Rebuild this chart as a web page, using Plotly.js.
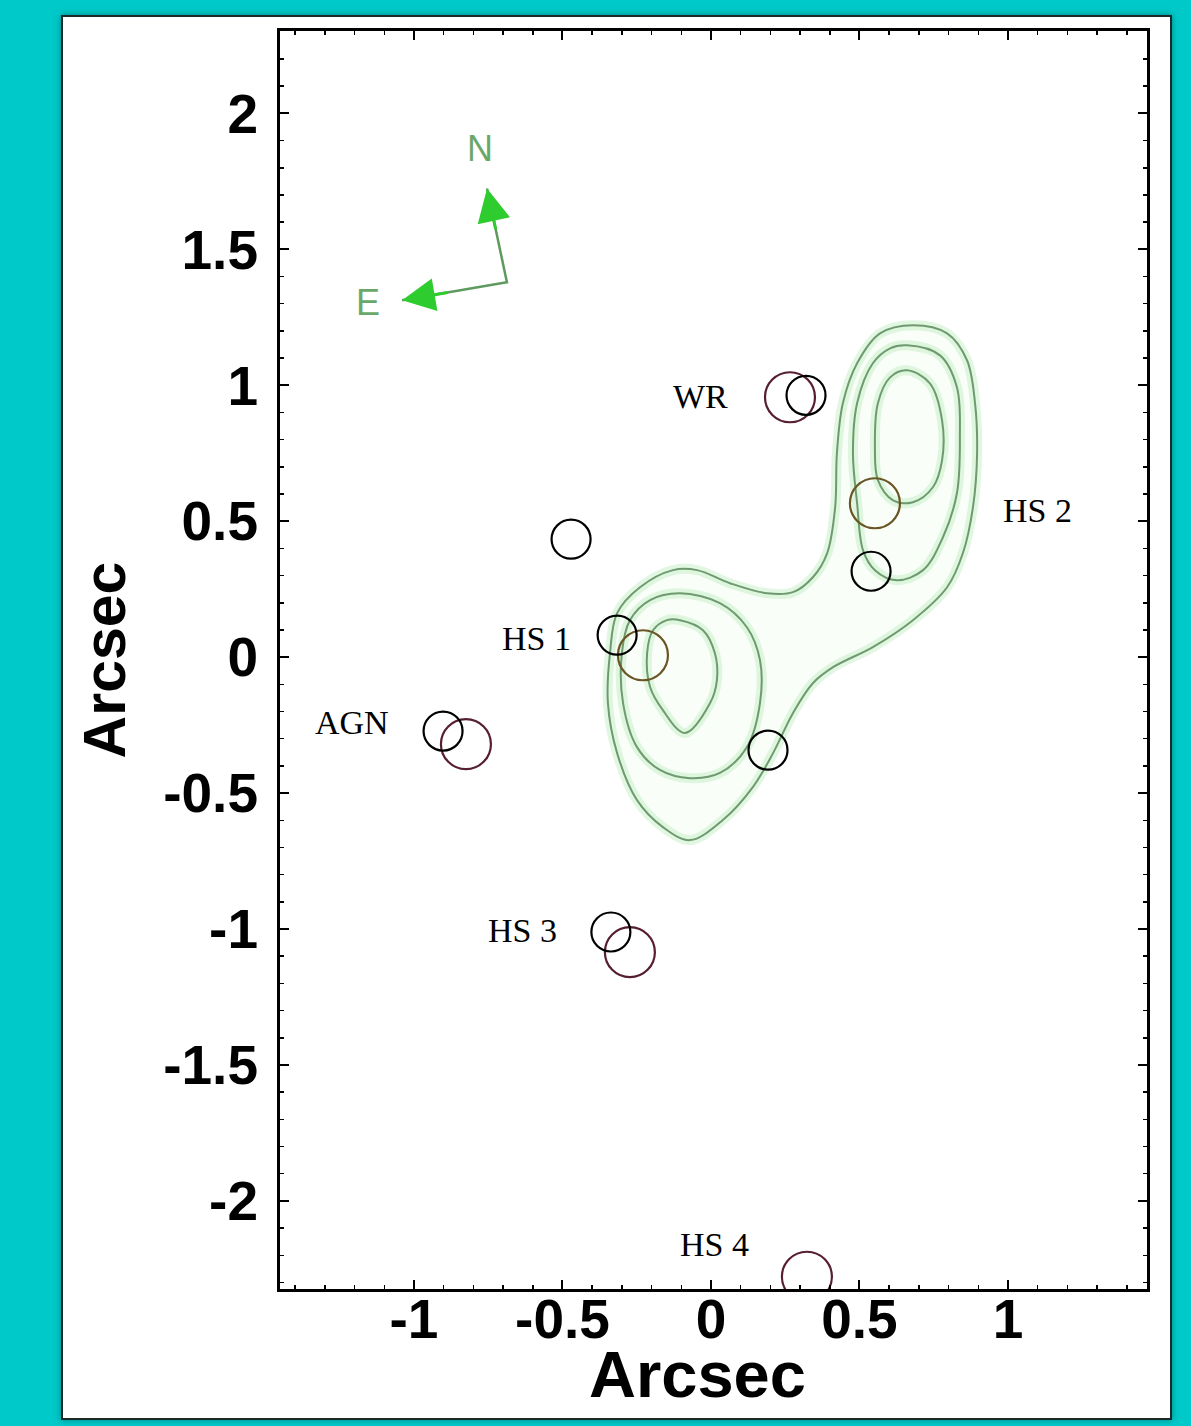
<!DOCTYPE html>
<html>
<head>
<meta charset="utf-8">
<script src="https://cdn.plot.ly/plotly-3.0.1.min.js"></script>
<style>
  html, body { margin:0; padding:0; width:1191px; height:1426px; background:#00c9c9; overflow:hidden; }
  #frame { position:absolute; left:61px; top:15px; width:1111px; height:1405px; box-sizing:border-box;
           border:2px solid #1a2a2a; background:#ffffff; box-shadow: 0 0 6px rgba(0,60,60,0.5); }
  #chart { position:absolute; left:0; top:0; width:1107px; height:1401px; }
</style>
</head>
<body>
<div id="frame"><div id="chart"></div></div>
<script>
// ---------- data (arcsec offsets) ----------
const blackX = [0.320, -0.471, 0.539, -0.316, 0.192, -0.902, -0.337];
const blackY = [0.963, 0.434, 0.316, 0.081, -0.342, -0.272, -1.011];

const redX = [0.266, 0.552, -0.229, -0.825, -0.273, 0.323];
const redY = [0.956, 0.566, 0.007, -0.320, -1.085, -2.279];

const labelText = ["WR", "HS 2", "HS 1", "AGN", "HS 3", "HS 4"];
const labelX = [-0.034, 1.101, -0.586, -1.209, -0.633, 0.013];
const labelY = [0.960, 0.540, 0.070, -0.239, -1.007, -2.162];

// contour outlines
const envX = [0.680,0.795,0.862,0.889,0.896,0.882,0.848,0.795,0.680,0.545,0.411,0.343,0.276,0.209,0.141,0.040,-0.071,-0.162,-0.249,-0.316,-0.347,-0.340,-0.316,-0.239,-0.128,-0.047,0.064,0.189,0.276,0.343,0.391,0.418,0.424,0.444,0.492,0.569,0.680];
const envY = [1.221,1.191,1.092,0.934,0.750,0.551,0.382,0.257,0.136,0.037,-0.037,-0.096,-0.206,-0.353,-0.478,-0.599,-0.673,-0.625,-0.526,-0.353,-0.169,0.015,0.162,0.257,0.320,0.320,0.272,0.235,0.239,0.294,0.382,0.551,0.750,0.934,1.081,1.191,1.221];

const lowMidX = [-0.104,0.030,0.121,0.165,0.165,0.121,0.030,-0.071,-0.172,-0.249,-0.296,-0.300,-0.273,-0.205,-0.104];
const lowMidY = [0.235,0.199,0.110,-0.011,-0.169,-0.331,-0.426,-0.445,-0.415,-0.331,-0.169,0.015,0.136,0.210,0.235];

const lowInX = [-0.104,-0.027,0.013,0.020,-0.003,-0.088,-0.162,-0.205,-0.215,-0.195,-0.148,-0.104];
const lowInY = [0.136,0.099,0.015,-0.085,-0.169,-0.279,-0.195,-0.110,0.015,0.099,0.136,0.136];

const upMidX = [0.660,0.771,0.828,0.838,0.828,0.781,0.714,0.626,0.552,0.512,0.492,0.478,0.492,0.545,0.603,0.660];
const upMidY = [1.147,1.110,0.993,0.809,0.603,0.441,0.320,0.283,0.320,0.393,0.566,0.750,0.934,1.081,1.136,1.147];

const upInX = [0.660,0.737,0.778,0.778,0.747,0.680,0.613,0.562,0.552,0.562,0.603,0.660];
const upInY = [1.055,1.007,0.871,0.724,0.625,0.570,0.577,0.651,0.772,0.934,1.029,1.055];

// compass: [north tip, corner, east tip] and label positions
const compassX = [-0.754, -0.687, -1.040];
const compassY = [1.724, 1.379, 1.3125];
const compassLabel = ["N", "E"];
const compassLabelX = [-0.778, -1.155];
const compassLabelY = [1.871, 1.305];

const xTickVals = [-1, -0.5, 0, 0.5, 1];
const xTickText = ["-1", "-0.5", "0", "0.5", "1"];
const yTickVals = [-2, -1.5, -1, -0.5, 0, 0.5, 1, 1.5, 2];
const yTickText = ["-2", "-1.5", "-1", "-0.5", "0", "0.5", "1", "1.5", "2"];
const xTitle = "Arcsec";
const yTitle = "Arcsec";

// ---------- styles ----------
const redColors = ['#561e2e', '#6a5524', '#6a5524', '#561e2e', '#561e2e', '#561e2e'];
const contourLine = '#6f9a70';
const glow = 'rgba(140,225,140,0.25)';

const contours = [[envX, envY], [lowMidX, lowMidY], [lowInX, lowInY], [upMidX, upMidY], [upInX, upInY]];
const traces = [];

traces.push({x: envX, y: envY, type: 'scatter', mode: 'none', fill: 'toself',
  fillcolor: 'rgba(215,245,215,0.15)', hoverinfo: 'skip', line: {shape: 'spline', smoothing: 1}});

contours.forEach(c => {
  traces.push({x: c[0], y: c[1], type: 'scatter', mode: 'lines', hoverinfo: 'skip',
    line: {color: glow, width: 10, shape: 'spline', smoothing: 1}});
});
contours.forEach(c => {
  traces.push({x: c[0], y: c[1], type: 'scatter', mode: 'lines', hoverinfo: 'skip',
    line: {color: contourLine, width: 2, shape: 'spline', smoothing: 1}});
});

traces.push({x: compassX, y: compassY, type: 'scatter', mode: 'lines', hoverinfo: 'skip',
  line: {color: '#5e9a5e', width: 2.5}});

traces.push({x: redX, y: redY, type: 'scatter', mode: 'markers',
  marker: {symbol: 'circle-open', size: 50, color: redColors, line: {color: redColors, width: 2.2}}});
traces.push({x: blackX, y: blackY, type: 'scatter', mode: 'markers',
  marker: {symbol: 'circle-open', size: 39, color: '#000', line: {color: '#000', width: 2.2}}});

const annotations = labelText.map((t, i) => ({
  x: labelX[i], y: labelY[i], xref: 'x', yref: 'y', text: t, showarrow: false,
  font: {family: 'Liberation Serif, Times New Roman, serif', size: 34, color: '#000'}
}));
compassLabel.forEach((t, i) => annotations.push({
  x: compassLabelX[i], y: compassLabelY[i], xref: 'x', yref: 'y', text: t, showarrow: false,
  font: {family: 'Liberation Sans, Arial, sans-serif', size: 36, color: '#6aa86a'}
}));
// arrowheads at the north and east tips
[0, 2].forEach(k => {
  const j = 1;
  annotations.push({
    x: compassX[k], y: compassY[k], xref: 'x', yref: 'y',
    ax: compassX[j] + (compassX[k] - compassX[j]) * 0.55,
    ay: compassY[j] + (compassY[k] - compassY[j]) * 0.55,
    axref: 'x', ayref: 'y', text: '', showarrow: true,
    arrowhead: 2, arrowsize: 2.2, arrowwidth: 3, arrowcolor: '#2ecc2e'
  });
});
// x-axis title (placed as paper annotation so it can sit tight under the tick labels)
annotations.push({
  x: 0.482, y: -0.068, xref: 'paper', yref: 'paper', xanchor: 'center', yanchor: 'middle',
  text: xTitle, showarrow: false,
  font: {family: 'Liberation Sans, Arial, sans-serif', size: 65, color: '#000', weight: 'bold'}
});

const xTickFont = {family: 'Liberation Sans, Arial, sans-serif', size: 55, color: '#000', weight: 'bold'};
const yTickFont = {family: 'Liberation Sans, Arial, sans-serif', size: 55, color: '#000', weight: 'bold'};
const yTitleFont = {family: 'Liberation Sans, Arial, sans-serif', size: 59, color: '#000', weight: 'bold'};

const axisCommon = {
  showgrid: false, zeroline: false, showline: true, linecolor: '#000', linewidth: 3,
  mirror: 'ticks', ticks: 'inside', ticklen: 9, tickwidth: 2, tickcolor: '#000',
  tickmode: 'array',
  minor: {dtick: 0.1, ticks: 'inside', ticklen: 4, tickwidth: 1.5, tickcolor: '#000', showgrid: false}
};

const layout = {
  width: 1107, height: 1401,
  margin: {l: 217, r: 23, t: 14, b: 129},
  paper_bgcolor: '#ffffff', plot_bgcolor: '#ffffff',
  showlegend: false,
  xaxis: Object.assign({}, axisCommon, {
    range: [-1.451, 1.468], tickvals: xTickVals, ticktext: xTickText,
    tickfont: xTickFont, ticklabelstandoff: -20
  }),
  yaxis: Object.assign({}, axisCommon, {
    range: [-2.324, 2.303], tickvals: yTickVals, ticktext: yTickText,
    tickfont: yTickFont, ticklabelstandoff: 8,
    title: {text: yTitle, font: yTitleFont, standoff: 19}
  }),
  annotations: annotations
};

Plotly.newPlot('chart', traces, layout, {staticPlot: true, displayModeBar: false});
</script>
</body>
</html>
